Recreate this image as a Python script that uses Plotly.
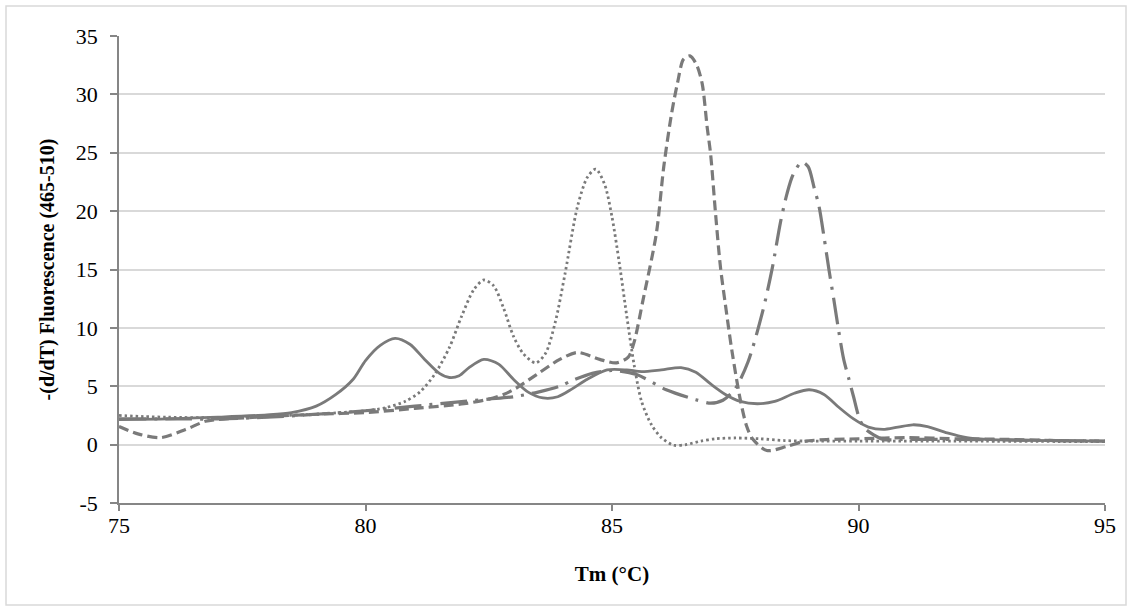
import plotly.graph_objects as go

# Solid curve
solid_t = [75, 76, 77, 78, 78.5, 79, 79.4, 79.75, 80.0, 80.3, 80.6, 80.9, 81.2, 81.5, 81.7, 81.9, 82.1, 82.4, 82.7,
           83.0, 83.3, 83.6, 83.9, 84.2, 84.5, 84.9, 85.3, 85.6, 86.0, 86.4, 86.7, 87.0, 87.3, 87.6, 87.95, 88.3,
           88.7, 89.0, 89.3, 89.6, 89.9, 90.2, 90.5, 90.8, 91.1, 91.4, 91.8, 92.2, 92.6, 93, 94, 95]
solid_v = [2.15, 2.2, 2.35, 2.55, 2.75, 3.3, 4.3, 5.6, 7.2, 8.5, 9.1, 8.6, 7.3, 6.1, 5.75, 5.9, 6.6, 7.3, 6.9,
           5.6, 4.5, 4.0, 4.1, 4.8, 5.6, 6.4, 6.4, 6.25, 6.4, 6.6, 6.2, 5.2, 4.3, 3.7, 3.5, 3.7,
           4.4, 4.7, 4.3, 3.2, 2.2, 1.5, 1.3, 1.5, 1.7, 1.55, 1.0, 0.6, 0.45, 0.4, 0.35, 0.3]

# Dotted curve
dot_t = [75, 75.5, 76, 77, 78, 79, 79.5, 80, 80.4, 80.8, 81.1, 81.4, 81.7, 81.95, 82.2, 82.4, 82.6, 82.8, 83.0,
         83.2, 83.45, 83.65, 83.85, 84.05, 84.3, 84.5, 84.67, 84.85, 85.0, 85.15, 85.3, 85.45, 85.6, 85.8, 86.0,
         86.25, 86.5, 86.8, 87.1, 87.5, 88.0, 88.5, 89, 90, 92, 95]
dot_v = [2.5, 2.4, 2.35, 2.3, 2.45, 2.6, 2.75, 2.9, 3.15, 3.7, 4.5, 6.0, 8.3, 11.0, 13.3, 14.1, 13.6, 11.7, 9.3,
         7.8, 7.0, 7.8, 10.5, 14.7, 20.4, 22.9, 23.6, 22.3, 19.5, 15.5, 11.0, 6.8, 3.7, 1.7, 0.6,
         -0.05, 0.0, 0.3, 0.5, 0.57, 0.5, 0.35, 0.3, 0.3, 0.3, 0.25]

# Dashed curve
dash_t = [75, 75.4, 75.85, 76.35, 76.75, 77, 78, 79, 80, 81, 82, 82.5, 82.8, 83.06, 83.47, 83.94, 84.3, 84.75,
          85.09, 85.33, 85.45, 85.63, 85.9, 86.05, 86.21, 86.33, 86.45, 86.58, 86.72, 86.83, 86.93, 87.0, 87.1,
          87.2, 87.3, 87.43, 87.6, 87.73, 87.85, 88.14, 88.55, 88.9, 89.35, 90, 91, 92, 93, 94, 95]
dash_v = [1.55, 0.9, 0.6, 1.3, 2.0, 2.15, 2.4, 2.6, 2.75, 3.1, 3.5, 3.9, 4.3, 4.85, 6.0, 7.3, 7.9, 7.3,
          7.0, 7.5, 8.8, 12.4, 18.1, 23.8, 28.4, 31.0, 33.0, 33.3, 32.5, 30.9, 27.2, 24.9, 19.8,
          15.2, 12.0, 8.1, 3.9, 1.6, 0.5, -0.5, -0.15, 0.28, 0.43, 0.5, 0.6, 0.5, 0.45, 0.35, 0.3]

# Long dash-dot curve
dd_t = [75, 76, 77, 78, 79, 80, 81, 82, 82.5, 83.0, 83.5, 83.94, 84.2, 84.6, 85.0, 85.5, 86.1, 86.7, 87.0,
        87.25, 87.5, 87.76, 88.05, 88.25, 88.42, 88.55, 88.67, 88.85, 88.98, 89.1, 89.2, 89.3, 89.4, 89.5,
        89.6, 89.7, 89.8, 89.9, 90.03, 90.15, 90.3, 90.5, 91, 92, 93, 94, 95]
dd_v = [2.2, 2.2, 2.2, 2.35, 2.6, 2.9, 3.3, 3.7, 3.9, 4.1, 4.5, 5.0, 5.5, 6.1, 6.35, 6.0, 4.7, 3.85, 3.55,
        3.8, 4.8, 7.1, 11.3, 15.1, 19.1, 21.5, 23.1, 24.2, 23.8, 22.0, 20.4, 17.8, 15.0, 12.4,
        9.7, 7.3, 5.7, 4.1, 2.1, 1.3, 0.86, 0.45, 0.45, 0.45, 0.4, 0.35, 0.3]

x_ticks = [75, 80, 85, 90, 95]
y_ticks = [-5, 0, 5, 10, 15, 20, 25, 30, 35]

GRAY = "#7a7a7a"
FONT = "Liberation Serif, Times New Roman, serif"

fig = go.Figure()
fig.add_trace(go.Scatter(x=solid_t, y=solid_v, mode="lines",
                         line=dict(color=GRAY, width=2.8, shape="spline", smoothing=0.8)))
fig.add_trace(go.Scatter(x=dot_t, y=dot_v, mode="lines",
                         line=dict(color=GRAY, width=2.8, dash="2.5px,3px", shape="spline", smoothing=0.8)))
fig.add_trace(go.Scatter(x=dash_t, y=dash_v, mode="lines",
                         line=dict(color=GRAY, width=3.2, dash="10px,5px", shape="spline", smoothing=0.8)))
fig.add_trace(go.Scatter(x=dd_t, y=dd_v, mode="lines",
                         line=dict(color=GRAY, width=3.2, dash="27px,8px,3px,8px", shape="spline", smoothing=0.8)))

fig.update_layout(
    width=1132, height=611,
    margin=dict(l=119, r=27, t=36, b=108),
    paper_bgcolor="white", plot_bgcolor="white",
    showlegend=False,
    font=dict(family=FONT, size=22, color="black"),
    shapes=[dict(type="rect", xref="paper", yref="paper",
                 x0=-0.1146, x1=1.0213, y0=-0.2184, y1=1.0642,
                 line=dict(color="#d9d9d9", width=1.5), layer="below")],
)
fig.update_xaxes(range=[75, 95], tickvals=x_ticks, ticktext=[str(v) for v in x_ticks],
                 showgrid=False, zeroline=False,
                 showline=True, linecolor="#868686", linewidth=1.5,
                 ticks="outside", ticklen=6, tickwidth=1.5, tickcolor="#868686",
                 tickfont=dict(family=FONT, size=22), ticklabelstandoff=-4,
                 title=dict(text="<b>Tm (°C)</b>", font=dict(family=FONT, size=21), standoff=29))
fig.update_yaxes(range=[-5, 35], tickvals=y_ticks, ticktext=[str(v) for v in y_ticks],
                 showgrid=True, gridcolor="#d9d9d9", gridwidth=1.5, zeroline=False,
                 showline=True, linecolor="#868686", linewidth=1.5,
                 ticks="outside", ticklen=7, tickwidth=1.5, tickcolor="#868686",
                 tickfont=dict(family=FONT, size=22), ticklabelstandoff=8,
                 title=dict(text="<b>-(d/dT) Fluorescence (465-510)</b>", font=dict(family=FONT, size=20),
                            standoff=16))

fig.write_html("out.html", config={"displayModeBar": False},
               post_script="document.body.style.margin='0';")
